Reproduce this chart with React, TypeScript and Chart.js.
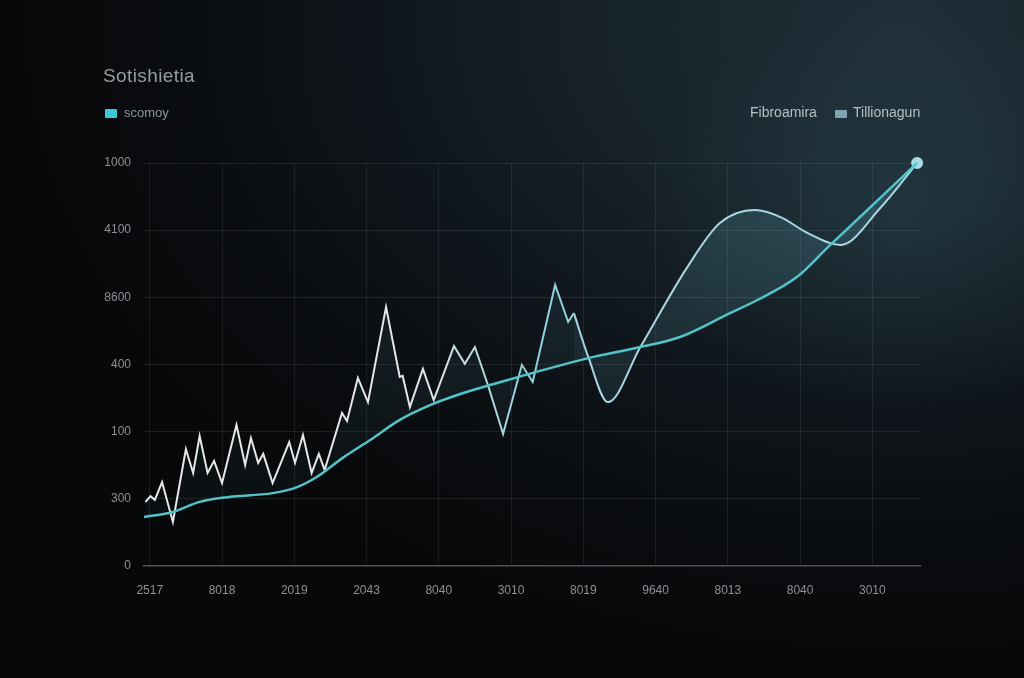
import React, { useEffect, useRef } from "react";
import { Chart, registerables } from "chart.js";

Chart.register(...registerables);

const xLabels = ["2517", "8018", "2019", "2043", "8040", "3010", "8019", "9640", "8013", "8040", "3010"];
const yLabels = ["0", "300", "100", "400", "8600", "4100", "1000"];

// jagged series (white part)
const jaggedX = [-0.06, 0.01, 0.07, 0.17, 0.32, 0.5, 0.6, 0.69, 0.8, 0.89, 1.0, 1.2, 1.32, 1.4, 1.5, 1.57, 1.7, 1.93, 2.01, 2.12, 2.24, 2.34, 2.42, 2.66, 2.73, 2.88, 3.02, 3.27, 3.46, 3.5, 3.6, 3.78, 3.93, 4.21, 4.36, 4.5, 4.68, 4.89, 5.15, 5.3, 5.61, 5.79, 5.87];
const jaggedY = [191, 208, 197, 250, 131, 348, 277, 387, 277, 313, 247, 420, 301, 381, 307, 334, 247, 369, 307, 390, 277, 334, 286, 456, 432, 560, 488, 771, 563, 566, 473, 587, 494, 655, 602, 652, 539, 393, 599, 548, 837, 727, 753];

// smooth continuation
const curveX = [5.87, 6.07, 6.34, 6.79, 7.44, 7.89, 8.38, 8.73, 9.1, 9.56, 10.11, 10.62];
const curveY = [753, 622, 488, 652, 890, 1021, 1060, 1039, 992, 956, 1066, 1200];

// trend
const trendX = [-0.08, 0.32, 0.69, 1.07, 1.7, 2.04, 2.31, 2.67, 3.05, 3.46, 3.88, 4.34, 4.81, 5.3, 6.07, 6.79, 7.34, 8.03, 8.41, 8.96, 9.39, 10.11, 10.62];
const trendY = [146, 161, 191, 205, 217, 235, 265, 322, 375, 435, 479, 515, 545, 575, 619, 652, 682, 753, 792, 861, 950, 1096, 1200];

const toPts = (xs: number[], ys: number[]) => xs.map((x, i) => ({ x, y: ys[i] }));

const vFill = (top: string, bottom: string) => (c: any) => {
  const area = c.chart.chartArea;
  if (!area) return "rgba(0,0,0,0)";
  const g = c.chart.ctx.createLinearGradient(0, area.top, 0, area.bottom);
  g.addColorStop(0, top);
  g.addColorStop(1, bottom);
  return g;
};

export default function App() {
  const ref = useRef<HTMLCanvasElement | null>(null);

  useEffect(() => {
    if (!ref.current) return;
    const chart = new Chart(ref.current, {
      type: "line",
      data: {
        datasets: [
          {
            label: "trend",
            data: toPts(trendX, trendY),
            borderColor: "#52c3c9",
            borderWidth: 2.5,
            pointRadius: 0,
            cubicInterpolationMode: "monotone",
            fill: false,
            clip: false as any,
          },
          {
            label: "jagged",
            data: toPts(jaggedX, jaggedY),
            borderColor: (c: any) => {
              const area = c.chart.chartArea;
              if (!area) return "#e0e0e0";
              const g = c.chart.ctx.createLinearGradient(area.left, 0, area.right, 0);
              g.addColorStop(0, "#e6e8ea");
              g.addColorStop(0.36, "#e2e6e8");
              g.addColorStop(0.5, "#8fd0da");
              g.addColorStop(1, "#8fd0da");
              return g;
            },
            backgroundColor: vFill("rgba(90,160,175,0.14)", "rgba(90,160,175,0.04)"),
            fill: 0,
            borderWidth: 2,
            pointRadius: 0,
            tension: 0,
          },
          {
            label: "curve",
            data: toPts(curveX, curveY),
            borderColor: "#a9d6e0",
            backgroundColor: vFill("rgba(100,175,195,0.22)", "rgba(100,175,195,0.06)"),
            fill: 0,
            borderWidth: 2,
            cubicInterpolationMode: "monotone",
            pointRadius: (c: any) => (c.dataIndex === curveX.length - 1 ? 5 : 0),
            pointBackgroundColor: "#a8dbe8",
            pointBorderColor: "#a8dbe8",
            clip: false as any,
          },
        ],
      },
      options: {
        animation: false,
        responsive: false,
        layout: { padding: { top: 163, right: 104, left: 0, bottom: 0 } },
        plugins: { legend: { display: false }, tooltip: { enabled: false } },
        scales: {
          x: {
            type: "linear",
            min: -0.08,
            max: 10.66,
            afterBuildTicks: (s: any) => {
              s.ticks = xLabels.map((_, i) => ({ value: i }));
            },
            afterFit: (s: any) => {
              s.height = 112;
            },
            ticks: {
              callback: (_v: any, i: number) => xLabels[i] ?? "",
              color: "#8b9196",
              font: { family: "Liberation Sans", size: 12 },
              padding: 17,
              maxRotation: 0,
              autoSkip: false,
            },
            grid: { color: "rgba(255,255,255,0.075)", drawTicks: false, lineWidth: 1 },
            border: { color: "#4d5359", width: 1.5 },
          },
          y: {
            type: "linear",
            min: 0,
            max: 1200,
            afterBuildTicks: (s: any) => {
              s.ticks = yLabels.map((_, i) => ({ value: i * 200 }));
            },
            afterFit: (s: any) => {
              s.width = 144;
            },
            ticks: {
              callback: (_v: any, i: number) => yLabels[i] ?? "",
              color: "#8b9196",
              font: { family: "Liberation Sans", size: 12 },
              padding: 13,
            },
            grid: {
              color: (c: any) => (c.index === 0 ? "rgba(0,0,0,0)" : "rgba(255,255,255,0.085)"),
              drawTicks: false,
            },
            border: { display: false },
          },
        },
      },
    });
    return () => chart.destroy();
  }, []);

  return (
    <div
      style={{
        position: "fixed",
        left: 0,
        top: 0,
        width: 1024,
        height: 678,
        overflow: "hidden",
        background:
          "radial-gradient(ellipse 260px 200px at 900px 210px, rgba(60,110,125,0.22) 0%, rgba(60,110,125,0) 100%), radial-gradient(ellipse 900px 640px at 88% 4%, #1f2f38 0%, #18242b 30%, #0f151a 60%, #090b0e 85%, #070809 100%)",
        fontFamily: "Liberation Sans, sans-serif",
      }}
    >
      <div style={{ position: "absolute", left: 103, top: 65, fontSize: 19, color: "#939ca1", letterSpacing: 0.4 }}>
        Sotishietia
      </div>
      <div style={{ position: "absolute", left: 105, top: 109, width: 12, height: 9, background: "#3ec7d6", borderRadius: 1 }} />
      <div style={{ position: "absolute", left: 124, top: 105, fontSize: 13, color: "#8a979c" }}>scomoy</div>
      <div style={{ position: "absolute", left: 750, top: 104, fontSize: 14, color: "#b4c0c4" }}>Fibroamira</div>
      <div style={{ position: "absolute", left: 835, top: 110, width: 12, height: 8, background: "#7fa5b4", borderRadius: 1 }} />
      <div style={{ position: "absolute", left: 853, top: 104, fontSize: 14, color: "#b4c0c4" }}>Tillionagun</div>
      <canvas ref={ref} width={1024} height={678} style={{ position: "absolute", left: 0, top: 0 }} />
    </div>
  );
}
